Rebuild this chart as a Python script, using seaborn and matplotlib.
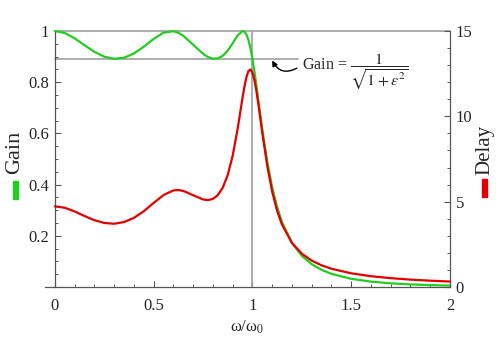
import matplotlib
matplotlib.use("Agg")
import matplotlib.pyplot as plt
import seaborn as sns
import pandas as pd
from matplotlib import font_manager as fm
from matplotlib.patches import Rectangle
from matplotlib.ticker import MultipleLocator

# normalised frequency omega/omega0
omega = [0, 0.05, 0.1, 0.15, 0.2, 0.25, 0.3, 0.35, 0.4, 0.45, 0.5, 0.55, 0.6,
         0.625, 0.65, 0.7, 0.75, 0.775, 0.8, 0.825, 0.85, 0.875, 0.9, 0.925,
         0.95, 0.96, 0.97, 0.98, 0.99, 1.0, 1.01, 1.02, 1.03, 1.05, 1.075, 1.1,
         1.125, 1.15, 1.2, 1.25, 1.3, 1.35, 1.4, 1.5, 1.6, 1.7, 1.8, 1.9, 2.0]
gain = [1.0, 0.99216, 0.97143, 0.94447, 0.91867, 0.89977, 0.89146, 0.89554,
        0.91202, 0.93854, 0.96912, 0.9934, 0.99926, 0.99315, 0.98125, 0.94638,
        0.91084, 0.89829, 0.89179, 0.89302, 0.90333, 0.9234, 0.95196, 0.98282,
        0.99996, 0.99705, 0.98568, 0.9644, 0.93271, 0.89126, 0.84181, 0.78691,
        0.72929, 0.61528, 0.4897, 0.38944, 0.31217, 0.25304, 0.17204, 0.1218,
        0.08911, 0.06695, 0.05142, 0.03194, 0.02094, 0.0143, 0.01009, 0.00732,
        0.00543]
delay = [4.7265, 4.6436, 4.4286, 4.1587, 3.9137, 3.7514, 3.7075, 3.8031, 4.0494,
         4.4397, 4.9254, 5.3882, 5.6585, 5.6815, 5.6299, 5.3783, 5.13, 5.0926,
         5.1626, 5.387, 5.8262, 6.5634, 7.691, 9.2618, 11.096, 11.7694, 12.3126,
         12.656, 12.7465, 12.5636, 12.126, 11.4855, 10.7111, 9.0237, 7.0928,
         5.5816, 4.4648, 3.6469, 2.583, 1.952, 1.547, 1.2695, 1.0693, 0.8019,
         0.6328, 0.5169, 0.4329, 0.3696, 0.3202]

ripple_level = 0.891
gain_ticks = [0.2, 0.4, 0.6, 0.8, 1.0]
gain_ticklabels = ["0.2", "0.4", "0.6", "0.8", "1"]
x_ticks = [0, 0.5, 1, 1.5, 2]
x_ticklabels = ["0", "0.5", "1", "1.5", "2"]
delay_ticks = [0, 5, 10, 15]
delay_ticklabels = ["0", "5", "10", "15"]

df = pd.DataFrame({"omega": omega, "gain": gain, "delay": delay})

sns.set_style("white")
plt.rcParams["font.family"] = ["Liberation Serif", "DejaVu Serif"]
plt.rcParams["mathtext.fontset"] = "stix"

GREEN = "#22cc22"
RED = "#e00000"
AXC = "#555555"
REFC = "#a0a0a0"

fig = plt.figure(figsize=(5.01, 3.41), dpi=100)
ax = fig.add_axes([45 / 501, 1 - 287 / 341, 405 / 501, 256 / 341])
ax.set_xlim(-0.05, 2.0)
ax.set_ylim(0, 1)

ax.plot([0, 2], [1, 1], color=REFC, lw=1.2, clip_on=False, zorder=1)
ax.plot([0, 1.23], [ripple_level, ripple_level], color=REFC, lw=1.2, zorder=1)
ax.plot([1, 1], [0, 1], color=REFC, lw=1.2, clip_on=False, zorder=1)

sns.lineplot(data=df, x="omega", y="gain", ax=ax, color=GREEN, lw=1.6,
             clip_on=False, zorder=3)

ax2 = ax.twinx()
ax2.set_ylim(0, 15)
sns.lineplot(data=df, x="omega", y="delay", ax=ax2, color=RED, lw=1.6,
             clip_on=False, zorder=3)

for s in ["top", "right"]:
    ax.spines[s].set_visible(False)
ax.spines["left"].set_position(("data", 0))
for s in ["left", "bottom"]:
    ax.spines[s].set_color(AXC)
    ax.spines[s].set_linewidth(0.9)
for s in ["top", "left", "bottom"]:
    ax2.spines[s].set_visible(False)
ax2.spines["right"].set_color(AXC)
ax2.spines["right"].set_linewidth(0.9)

ax.set_xticks(x_ticks)
ax.set_xticklabels(x_ticklabels)
ax.set_yticks(gain_ticks)
ax.set_yticklabels(gain_ticklabels)
ax.xaxis.set_minor_locator(MultipleLocator(0.1))
ax.yaxis.set_minor_locator(MultipleLocator(0.05))
ax2.set_yticks(delay_ticks)
ax2.set_yticklabels(delay_ticklabels)
ax2.yaxis.set_minor_locator(MultipleLocator(1))

ax.tick_params(axis="both", which="major", direction="in", length=4,
               width=0.8, color=AXC, labelsize=12)
ax.tick_params(axis="both", which="minor", direction="in", length=2.2,
               width=0.7, color=AXC)
ax.tick_params(axis="x", which="major", pad=8, bottom=True)
ax.tick_params(axis="x", which="minor", bottom=True)
ax.tick_params(axis="y", which="major", pad=4, left=True)
ax.tick_params(axis="y", which="minor", left=True)
ax2.tick_params(axis="y", which="major", direction="in", length=4, width=0.8,
                color=AXC, labelsize=12, pad=4, right=True)
ax2.tick_params(axis="y", which="minor", direction="in", length=2.2,
                width=0.7, color=AXC, right=True)

ax.set_ylabel("")
ax2.set_ylabel("")
ax.set_xlabel("ω/ω$_0$", fontsize=12, labelpad=3)

fig.text(15 / 501, 1 - 152 / 341, "Gain", rotation=90, fontsize=16,
         ha="center", va="center")
fig.text(485 / 501, 1 - 150 / 341, "Delay", rotation=90, fontsize=15,
         ha="center", va="center")
fig.patches.append(Rectangle((13 / 501, 1 - 199 / 341), 5 / 501, 18 / 341,
                             transform=fig.transFigure, color=GREEN))
fig.patches.append(Rectangle((482 / 501, 1 - 197 / 341), 5 / 501, 18 / 341,
                             transform=fig.transFigure, color=RED))

ax.text(1.25, 0.84, r"Gain = $\dfrac{1}{\sqrt{1+\epsilon^2}}$", fontsize=11.5,
        ha="left", va="center")
ax.annotate("", xy=(1.1, 0.885), xytext=(1.225, 0.855),
            arrowprops=dict(arrowstyle="-|>", color="black", lw=1.0,
                            connectionstyle="arc3,rad=-0.5",
                            mutation_scale=8, shrinkA=0, shrinkB=0))

fig.savefig("out.png", dpi=100)
